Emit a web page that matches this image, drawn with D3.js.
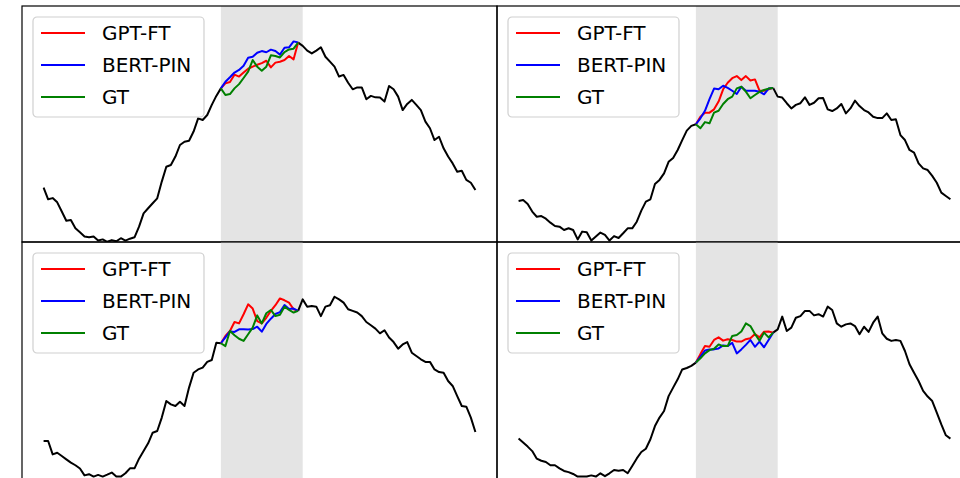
<!DOCTYPE html>
<html>
<head>
<meta charset="utf-8">
<script src="https://cdn.jsdelivr.net/npm/d3@7/dist/d3.min.js"></script>
<style>
  body { margin: 0; background: #fff; }
  svg { display: block; font-family: "DejaVu Sans", sans-serif; }
</style>
</head>
<body>
<div id="chart"></div>
<script>
// 96 time steps per day, the masked window and the legend entries
var steps = d3.range(96);
var maskStart = 39, maskEnd = 56, shadeEnd = 57;
var seriesNames = ["GPT-FT", "BERT-PIN", "GT"];
var seriesColors = ["#ff0000", "#0000ff", "#008000"];

// Normalised load (0-100). Inside the mask the load is the ground truth (GT)
var p1Load = [23.0,18.1,18.6,16.8,12.9,9.0,9.3,5.8,4.1,2.3, 2.0,2.3,0.6,1.1,0.1,0.8,0.3,1.6,0.6,1.4,
  2.0,6.5,12.1,14.3,16.4,18.5,25.6,31.9,32.6,36.2, 41.1,42.5,42.9,46.8,52.4,51.7,53.8,58.1,61.9,65.1,
  62.3,62.7,65.1,66.9,69.5,72.2,77.1,74.3,72.6,74.3, 79.1,78.8,78.2,80.5,81.6,81.9,
  84.5,83.1,81.1,79.9,81.1,82.5,78.5,76.4,74.3,70.1, 70.8,67.5,64.7,65.5,65.5,60.5,61.9,61.3,61.2,59.5,
  66.1,64.7,61.6,55.9,58.5,60.2,58.1,55.9,51.0,48.2, 43.2,44.6,39.7,36.2,33.3,29.8,30.2,26.3,25.1,22.0];
var p1Gpt = [65.1,67.2,67.8,70.9,70.1,71.8,73.4,74.3,75.1,75.8,76.8,74.0,76.0,76.4,77.1,78.8,77.4,84.5];
var p1Bert = [65.1,67.9,69.8,71.8,72.9,74.7,78.1,78.5,80.2,80.9,80.4,81.5,80.9,79.4,82.3,82.5,85.0,84.5];

var p2Load = [17.4,17.8,16.1,12.9,10.7,11.0,9.9,8.2,6.8,6.5, 5.1,5.8,5.1,1.1,4.4,4.1,0.6,2.3,4.0,3.0,
  0.6,2.5,1.7,3.7,5.8,5.8,8.6,13.3,17.1,18.1, 24.6,26.3,29.1,34.0,35.6,39.0,43.2,47.2,49.2,49.9,
  48.2,50.8,50.3,54.8,55.6,58.5,60.5,61.6,65.1,65.8, 63.7,60.9,62.3,63.6,64.4,65.0,
  65.3,61.6,61.2,58.8,56.6,58.1,58.8,61.3,58.1,59.0, 60.9,61.0,56.2,55.5,56.6,58.5,54.5,56.6,59.9,57.6,
  55.9,54.9,53.1,52.5,52.5,54.5,51.7,52.0,45.3,43.2, 39.0,37.9,33.3,31.2,30.5,28.0,25.1,20.9,19.5,18.1];
var p2Gpt = [49.9,53.1,54.8,54.8,56.2,59.5,64.7,67.5,69.4,70.3,68.6,70.3,68.4,68.9,64.1,64.1,64.7,65.3];
var p2Bert = [49.9,52.4,55.6,60.5,65.0,64.7,66.2,65.3,64.1,62.7,65.8,64.1,64.1,64.1,63.7,62.6,65.0,65.3];

var p3Load = [15.7,15.7,10.0,10.7,9.3,7.9,6.5,5.4,4.0,1.1, 1.6,0.6,1.3,0.6,1.4,2.3,0.6,0.6,2.0,4.1,
  4.1,8.2,11.4,14.7,19.2,19.9,25.6,32.6,31.2,30.5, 32.3,30.5,38.3,44.6,46.0,46.8,49.2,50.0,57.3,57.1,
  55.9,62.3,60.5,59.0,58.1,60.9,63.7,68.9,65.5,69.8, 71.2,68.6,69.2,72.6,71.2,70.1,
  70.8,75.7,72.6,72.9,72.6,68.6,72.6,73.2,76.8,75.7, 74.3,71.5,70.8,70.1,68.6,66.1,64.7,63.3,61.3,62.6,
  59.5,57.6,54.8,56.6,57.6,53.1,51.7,50.3,49.2,49.2, 46.0,44.9,44.6,41.1,39.0,34.7,30.5,30.2,25.6,19.5];
var p3Gpt = [57.1,60.2,62.3,66.1,65.5,69.4,73.6,71.8,66.5,65.5,67.9,70.8,73.2,76.1,75.3,74.3,71.5,70.8];
var p3Bert = [57.1,59.6,62.1,61.9,63.0,63.0,62.9,63.1,64.1,62.0,65.3,67.5,69.5,70.3,73.3,71.6,71.8,70.8];

var p4Load = [16.7,15.0,13.3,11.4,8.2,7.3,6.8,5.4,5.4,4.1, 3.0,2.5,1.7,0.6,0.6,0.6,1.1,0.6,2.0,0.8,
  2.0,3.4,3.1,3.4,2.0,5.1,8.3,11.0,12.4,16.4, 22.0,25.6,28.4,34.7,38.3,41.8,46.0,46.6,47.5,48.9,
  50.7,52.8,54.2,54.8,56.6,55.9,55.9,60.2,60.6,62.1, 65.5,64.4,61.0,58.2,61.6,59.6,
  61.6,63.0,68.4,62.3,63.7,67.9,68.6,70.8,70.8,68.9, 69.4,68.4,72.6,71.2,65.5,64.1,65.1,65.5,64.4,60.9,
  64.1,61.9,65.8,68.4,61.3,59.0,58.1,58.5,58.1,53.8, 48.2,44.6,41.1,36.9,34.5,32.6,27.7,22.7,18.1,16.7];
var p4Gpt = [48.9,52.5,55.9,55.6,58.5,59.6,58.2,58.8,58.5,57.8,57.8,58.8,59.2,61.0,59.6,62.0,62.1,61.6];
var p4Bert = [48.9,51.4,54.0,54.5,54.5,54.9,56.2,55.9,57.3,52.8,54.5,56.4,58.5,55.6,57.8,55.4,58.5,61.6];

(function() {
  var width = 960, height = 478;
  var panelW = 475, panelH = 236;
  var origin = {left: 22, top: 6};

  var panels = [
    {load: p1Load, gpt: p1Gpt, bert: p1Bert, col: 0, row: 0},
    {load: p2Load, gpt: p2Gpt, bert: p2Bert, col: 1, row: 0},
    {load: p3Load, gpt: p3Gpt, bert: p3Bert, col: 0, row: 1},
    {load: p4Load, gpt: p4Gpt, bert: p4Bert, col: 1, row: 1}
  ];

  var svg = d3.select("#chart")
    .append("svg")
    .attr("width", width)
    .attr("height", height);

  // Same scales for every panel, 5% padding on x like matplotlib
  var pad = (steps.length - 1) * 0.05;
  var x = d3.scaleLinear()
    .domain([-pad, steps.length - 1 + pad])
    .range([0, panelW]);

  var y = d3.scaleLinear()
    .domain([0, 100])
    .range([panelH, 0]);

  var line = d3.line()
    .x(function(d) { return x(d[0]); })
    .y(function(d) { return y(d[1]); });

  panels.forEach(function(p, k) {
    // bottom row runs off the bottom of the picture, so its lower edge is not seen
    var boxH = p.row == 1 ? panelH + 4 : panelH;

    var g = svg.append("g")
      .attr("transform", "translate(" + (origin.left + p.col * panelW) + "," + (origin.top + p.row * panelH) + ")");

    g.append("clipPath")
      .attr("id", "clip" + k)
      .append("rect")
      .attr("width", panelW)
      .attr("height", boxH);

    var plot = g.append("g").attr("clip-path", "url(#clip" + k + ")");

    // Shaded masked window
    plot.append("rect")
      .attr("x", x(maskStart))
      .attr("width", x(shadeEnd) - x(maskStart))
      .attr("y", 0)
      .attr("height", boxH)
      .attr("fill", "#e4e4e4");

    // Known load, before and after the mask
    var pairs = steps.map(function(i) { return [i, p.load[i]]; });
    [pairs.slice(0, maskStart + 1), pairs.slice(maskEnd)].forEach(function(seg) {
      plot.append("path")
        .datum(seg)
        .attr("d", line)
        .attr("fill", "none")
        .attr("stroke", "#000")
        .attr("stroke-width", 2)
        .attr("stroke-linejoin", "round");
    });

    // GPT-FT, BERT-PIN and GT inside the mask
    var gt = p.load.slice(maskStart, maskEnd + 1);
    [p.gpt, p.bert, gt].forEach(function(vals, s) {
      plot.append("path")
        .datum(vals.map(function(v, j) { return [maskStart + j, v]; }))
        .attr("d", line)
        .attr("fill", "none")
        .attr("stroke", seriesColors[s])
        .attr("stroke-width", 2)
        .attr("stroke-linejoin", "round");
    });

    // Axes frame, no ticks
    g.append("rect")
      .attr("width", panelW)
      .attr("height", boxH)
      .attr("fill", "none")
      .attr("stroke", "#000")
      .attr("stroke-width", 1.2);

    // Legend
    var legend = g.append("g").attr("transform", "translate(11,11)");
    legend.append("rect")
      .attr("width", 171)
      .attr("height", 100)
      .attr("rx", 4)
      .attr("fill", "#fff")
      .attr("fill-opacity", 0.8)
      .attr("stroke", "#d0d0d0")
      .attr("stroke-width", 1.2);

    seriesNames.forEach(function(name, s) {
      var cy = 16 + s * 32;
      legend.append("line")
        .attr("x1", 8)
        .attr("x2", 52)
        .attr("y1", cy)
        .attr("y2", cy)
        .attr("stroke", seriesColors[s])
        .attr("stroke-width", 2);
      legend.append("text")
        .attr("x", 69)
        .attr("y", cy + 7.3)
        .attr("font-size", 20)
        .attr("fill", "#000")
        .text(name);
    });
  });
})();
</script>
</body>
</html>
